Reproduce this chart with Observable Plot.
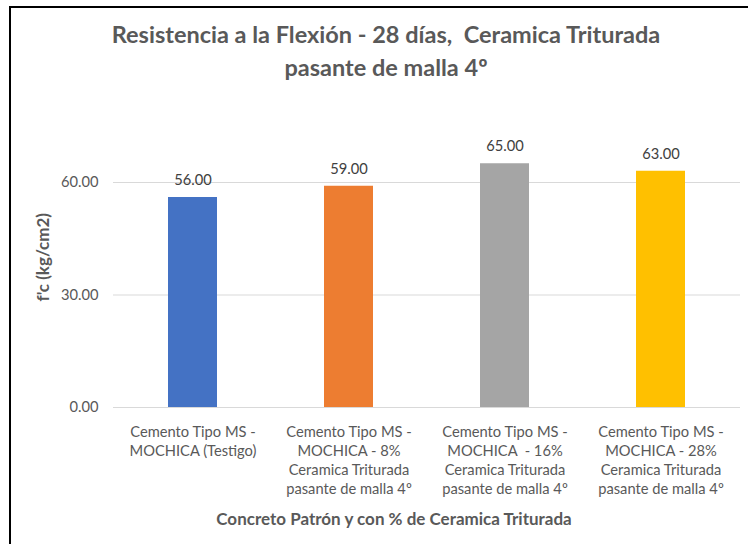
<!DOCTYPE html>
<html>
<head>
<meta charset="utf-8">
<script src="https://cdn.jsdelivr.net/npm/d3@7"></script>
<script src="https://cdn.jsdelivr.net/npm/@observablehq/plot@0.6"></script>
<style>
  html, body { margin: 0; padding: 0; width: 748px; height: 544px; overflow: hidden; background: #fff; }
  #frame { position: absolute; left: 9px; top: 6px; width: 800px; height: 600px; border: 2px solid #000; box-sizing: border-box; }
  #title { position: absolute; left: 0; top: 18px; width: 772px; text-align: center; font-family: Lato, sans-serif; font-weight: bold; font-size: 23.5px; line-height: 33px; color: #595959; }
  #chart { position: absolute; left: 0; top: 100px; }
</style>
</head>
<body>
<div id="frame"></div>
<div id="title">Resistencia a la Flexión - 28 días,&nbsp; Ceramica Triturada<br>pasante de malla 4º</div>
<div id="chart"></div>
<script>
const categories = [
  "Cemento Tipo MS -\nMOCHICA (Testigo)",
  "Cemento Tipo MS -\nMOCHICA - 8%\nCeramica Triturada\npasante de malla 4º",
  "Cemento Tipo MS -\nMOCHICA  - 16%\nCeramica Triturada\npasante de malla 4º",
  "Cemento Tipo MS -\nMOCHICA - 28%\nCeramica Triturada\npasante de malla 4º"
];
const values = [56, 59, 65, 63];
const colors = ["#4472C4", "#ED7D31", "#A5A5A5", "#FFC000"];
const yTicks = [0, 30, 60];
const xTitle = "Concreto Patrón y con % de Ceramica Triturada";
const yTitle = "f'c (kg/cm2)";

const data = categories.map((c, i) => ({cat: c, value: values[i], color: colors[i]}));
const font = "Lato, sans-serif";

const chart = Plot.plot({
  width: 748,
  height: 444,
  marginLeft: 113,
  marginRight: 8,
  marginTop: 44.5,
  marginBottom: 137,
  style: {fontFamily: font, background: "transparent"},
  x: {domain: categories, paddingInner: 0.6875, paddingOuter: 0.34375, axis: null},
  y: {domain: [0, 70], axis: null},
  marks: [
    Plot.gridY(yTicks, {stroke: "#d9d9d9", strokeOpacity: 1, strokeWidth: 1}),
    Plot.axisY(yTicks, {tickSize: 0, tickPadding: 15, tickFormat: d3.format(".2f"), fontSize: 14.7, fill: "#595959", label: null}),
    Plot.barY(data, {x: "cat", y: "value", fill: "color"}),
    Plot.text(data, {x: "cat", y: "value", text: d => d3.format(".2f")(d.value), dy: -17, fontSize: 14.7, fill: "#404040"}),
    Plot.text(data, {x: "cat", frameAnchor: "bottom", text: "cat", lineAnchor: "top", dy: 16, lineHeight: 1.3, fontSize: 14.7, fill: "#595959"}),
    Plot.text([xTitle], {frameAnchor: "bottom", text: d => d, dy: 117, dx: -33, fontSize: 17, fontWeight: "bold", fill: "#595959"}),
    Plot.text([yTitle], {frameAnchor: "left", textAnchor: "middle", text: d => d, rotate: -90, dx: -70, dy: -19, fontSize: 17, fontWeight: "bold", fill: "#595959"})
  ]
});
document.getElementById("chart").appendChild(chart);
</script>
</body>
</html>
